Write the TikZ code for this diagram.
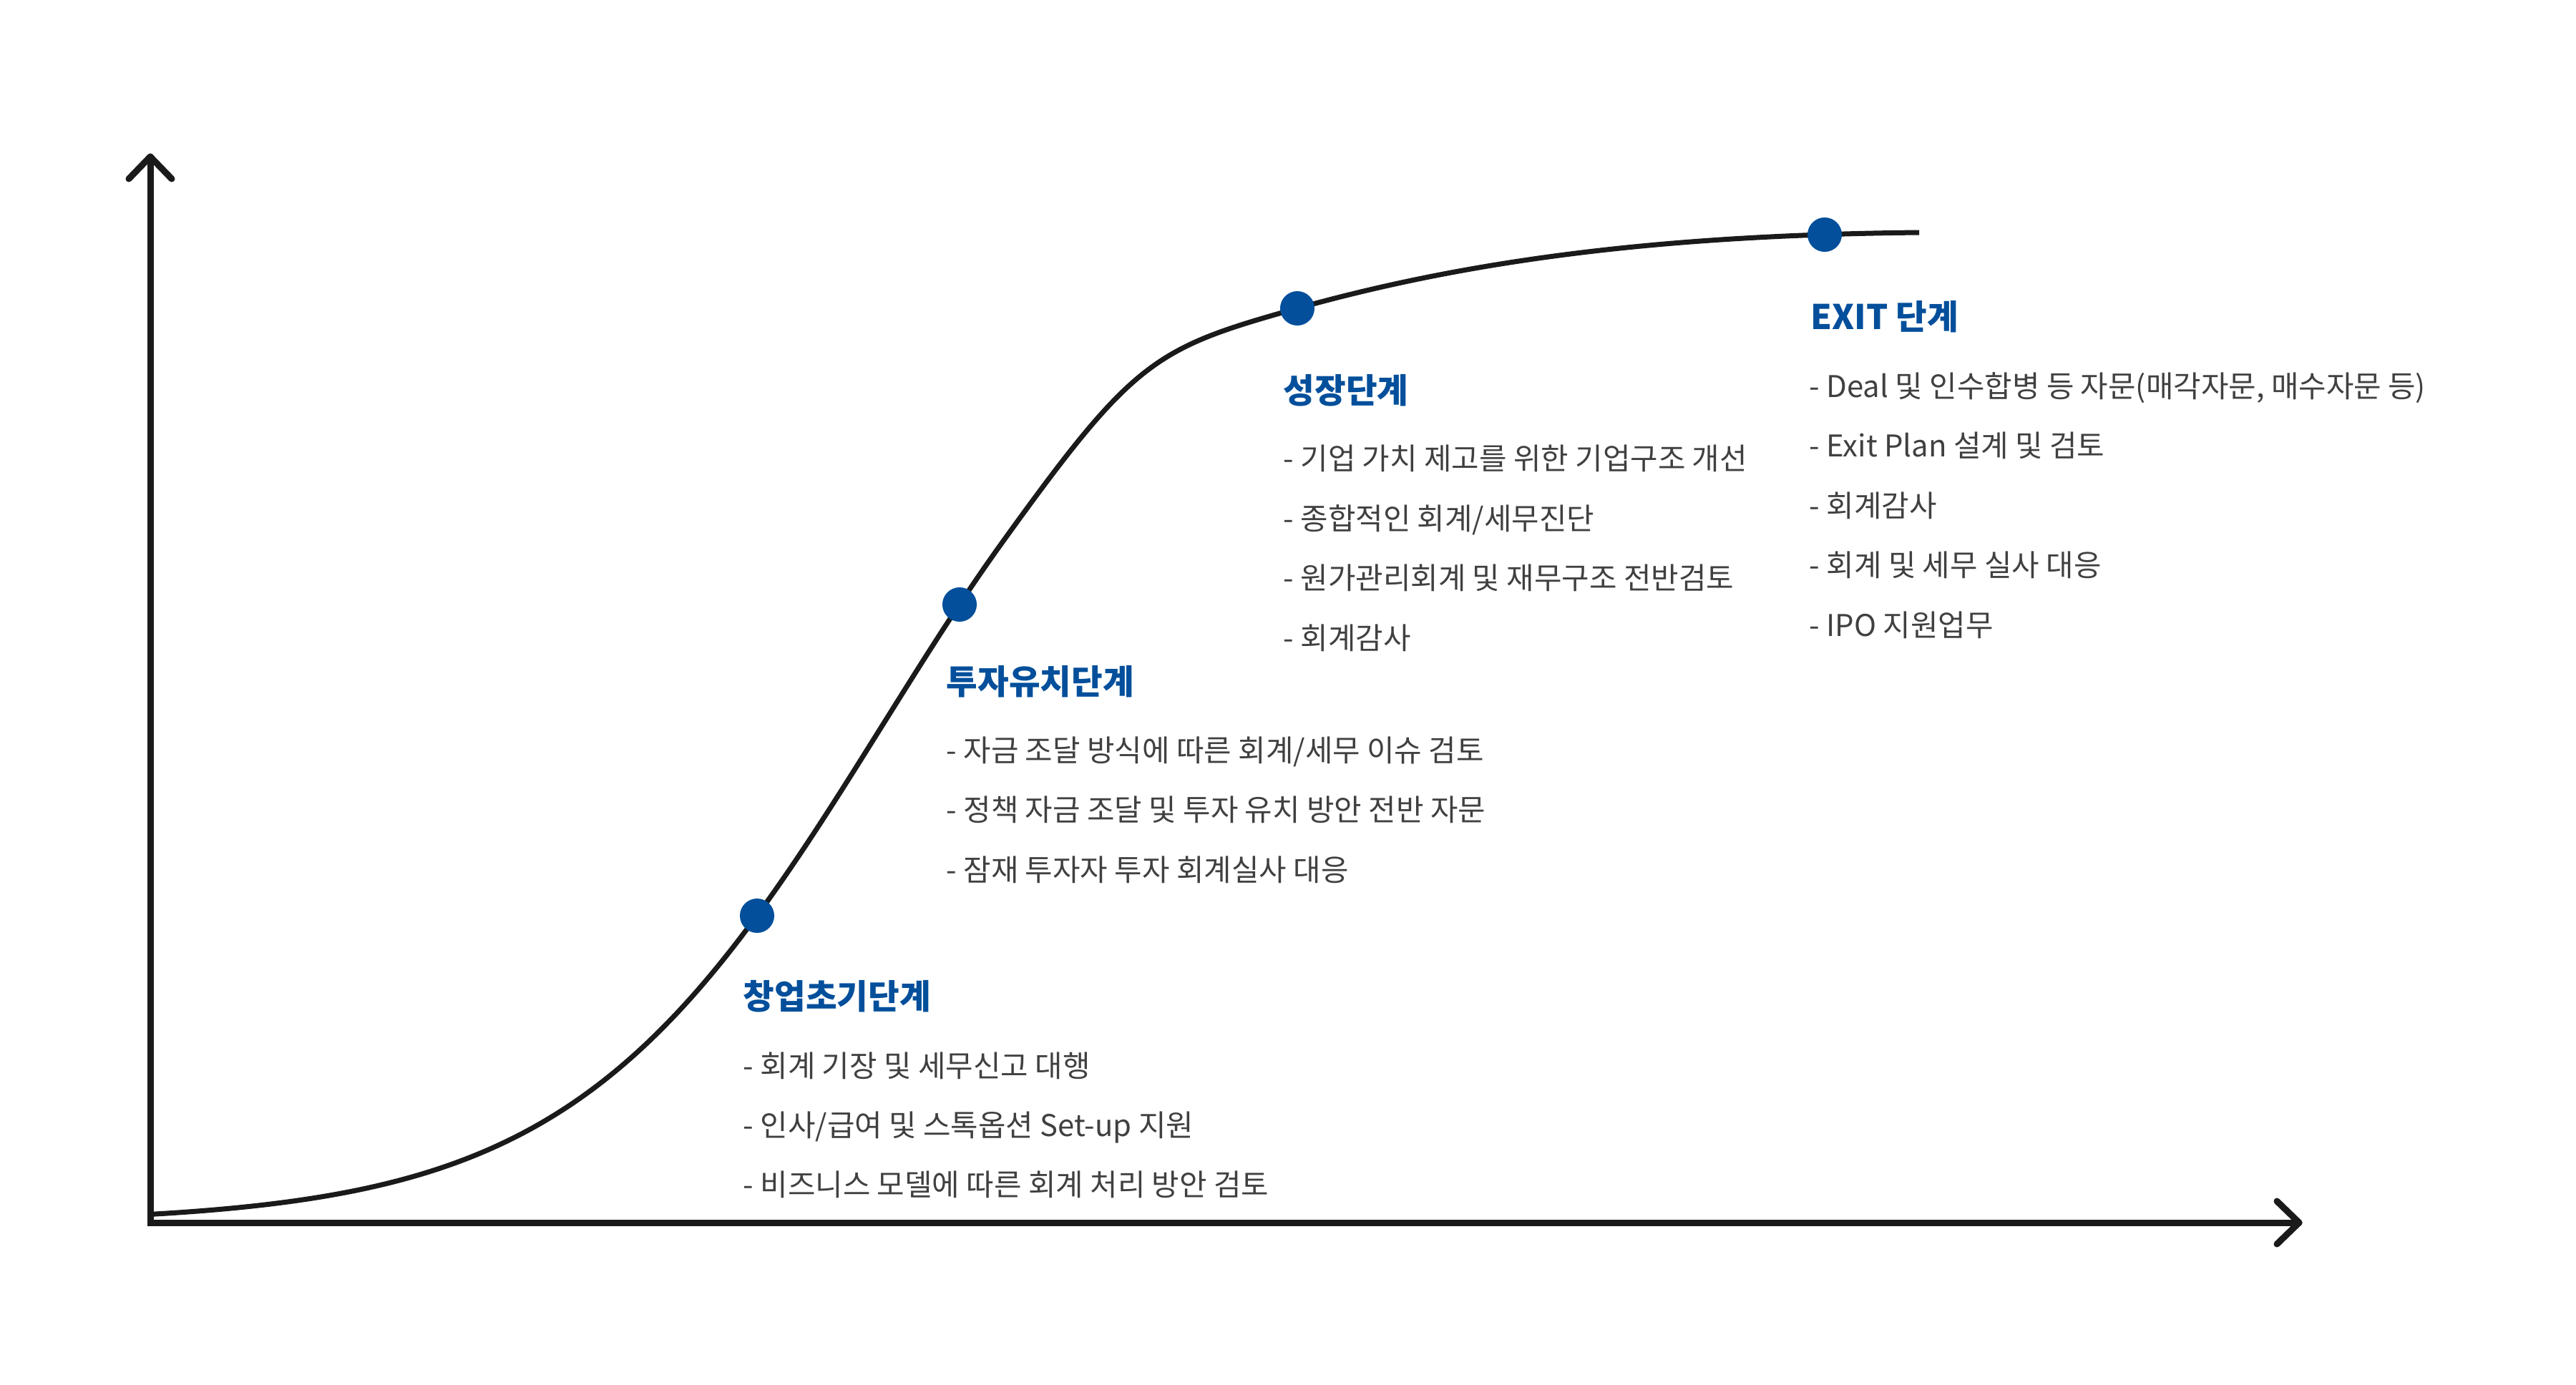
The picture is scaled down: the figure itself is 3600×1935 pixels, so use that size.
\documentclass[tikz,border=0pt]{standalone}
\usepackage{fontspec}
\setmainfont{Noto Sans CJK KR}
\definecolor{brand}{HTML}{034F9B}
\definecolor{ink}{HTML}{1A1A1A}
\definecolor{bodytext}{HTML}{404040}
\tikzset{
  axisline/.style={draw=ink, line width=0.09cm, line cap=round, line join=round},
  curveline/.style={draw=ink, line width=0.07cm},
  dotmark/.style={circle, fill=brand, minimum size=0.48cm, inner sep=0pt},
  stagetitle/.style={anchor=base west, inner sep=0pt, text=brand, font=\fontsize{13.5}{15}\selectfont\bfseries},
  item/.style={anchor=base west, inner sep=0pt, text=bodytext, font=\fontsize{11.9}{14}\selectfont},
}
\begin{document}
\begin{tikzpicture}[x=0.01cm, y=-0.01cm]
\path[use as bounding box, fill=white] (0,0) rectangle (3600,1935);

% axes
\coordinate (O) at (210,1709);
\coordinate (ytip) at (210,219);
\coordinate (xtip) at (3213,1709);
\draw[axisline, line join=miter] (ytip) -- (O) -- (xtip);
\draw[axisline] ([shift={(-30,31)}]ytip) -- (ytip) -- ([shift={(30,31)}]ytip);
\draw[axisline] ([shift={(-31,-30)}]xtip) -- (xtip) -- ([shift={(-31,30)}]xtip);

% growth curve
\draw[curveline] (210,1702) --
  plot[domain=212:1400, samples=150, variable=\t] ({\t},{1710-1395/(1+exp(-(\t-1234)/218))})
  .. controls (1585,502) and (1613,487) .. (1813,431)
  .. controls (2063,361) and (2332,328.5) .. (2682,325);

% stage dots
\node[dotmark] (d1) at (1058,1280) {};
\node[dotmark] (d2) at (1341,845) {};
\node[dotmark] (d3) at (1813,431) {};
\node[dotmark] (d4) at (2550,328) {};

% stage 1
\node[stagetitle] (t1) at (1038,1410) {창업초기단계};
\node[item] (t1a) at (1038,1505) {- 회계 기장 및 세무신고 대행};
\node[item] (t1b) at (1038,1588) {- 인사/급여 및 스톡옵션 Set-up 지원};
\node[item] (t1c) at (1038,1671) {- 비즈니스 모델에 따른 회계 처리 방안 검토};

% stage 2
\node[stagetitle] (t2) at (1322,970) {투자유치단계};
\node[item] (t2a) at (1322,1064) {- 자금 조달 방식에 따른 회계/세무 이슈 검토};
\node[item] (t2b) at (1322,1147) {- 정책 자금 조달 및 투자 유치 방안 전반 자문};
\node[item] (t2c) at (1322,1231) {- 잠재 투자자 투자 회계실사 대응};

% stage 3
\node[stagetitle] (t3) at (1793,563) {성장단계};
\node[item] (t3a) at (1793,656) {- 기업 가치 제고를 위한 기업구조 개선};
\node[item] (t3b) at (1793,740) {- 종합적인 회계/세무진단};
\node[item] (t3c) at (1793,823) {- 원가관리회계 및 재무구조 전반검토};
\node[item] (t3d) at (1793,907) {- 회계감사};

% stage 4
\node[stagetitle] (t4) at (2530,460) {EXIT 단계};
\node[item] (t4a) at (2528,555) {- Deal 및 인수합병 등 자문(매각자문, 매수자문 등)};
\node[item] (t4b) at (2528,638) {- Exit Plan 설계 및 검토};
\node[item] (t4c) at (2528,722) {- 회계감사};
\node[item] (t4d) at (2528,805) {- 회계 및 세무 실사 대응};
\node[item] (t4e) at (2528,889) {- IPO 지원업무};
\end{tikzpicture}
\end{document}
